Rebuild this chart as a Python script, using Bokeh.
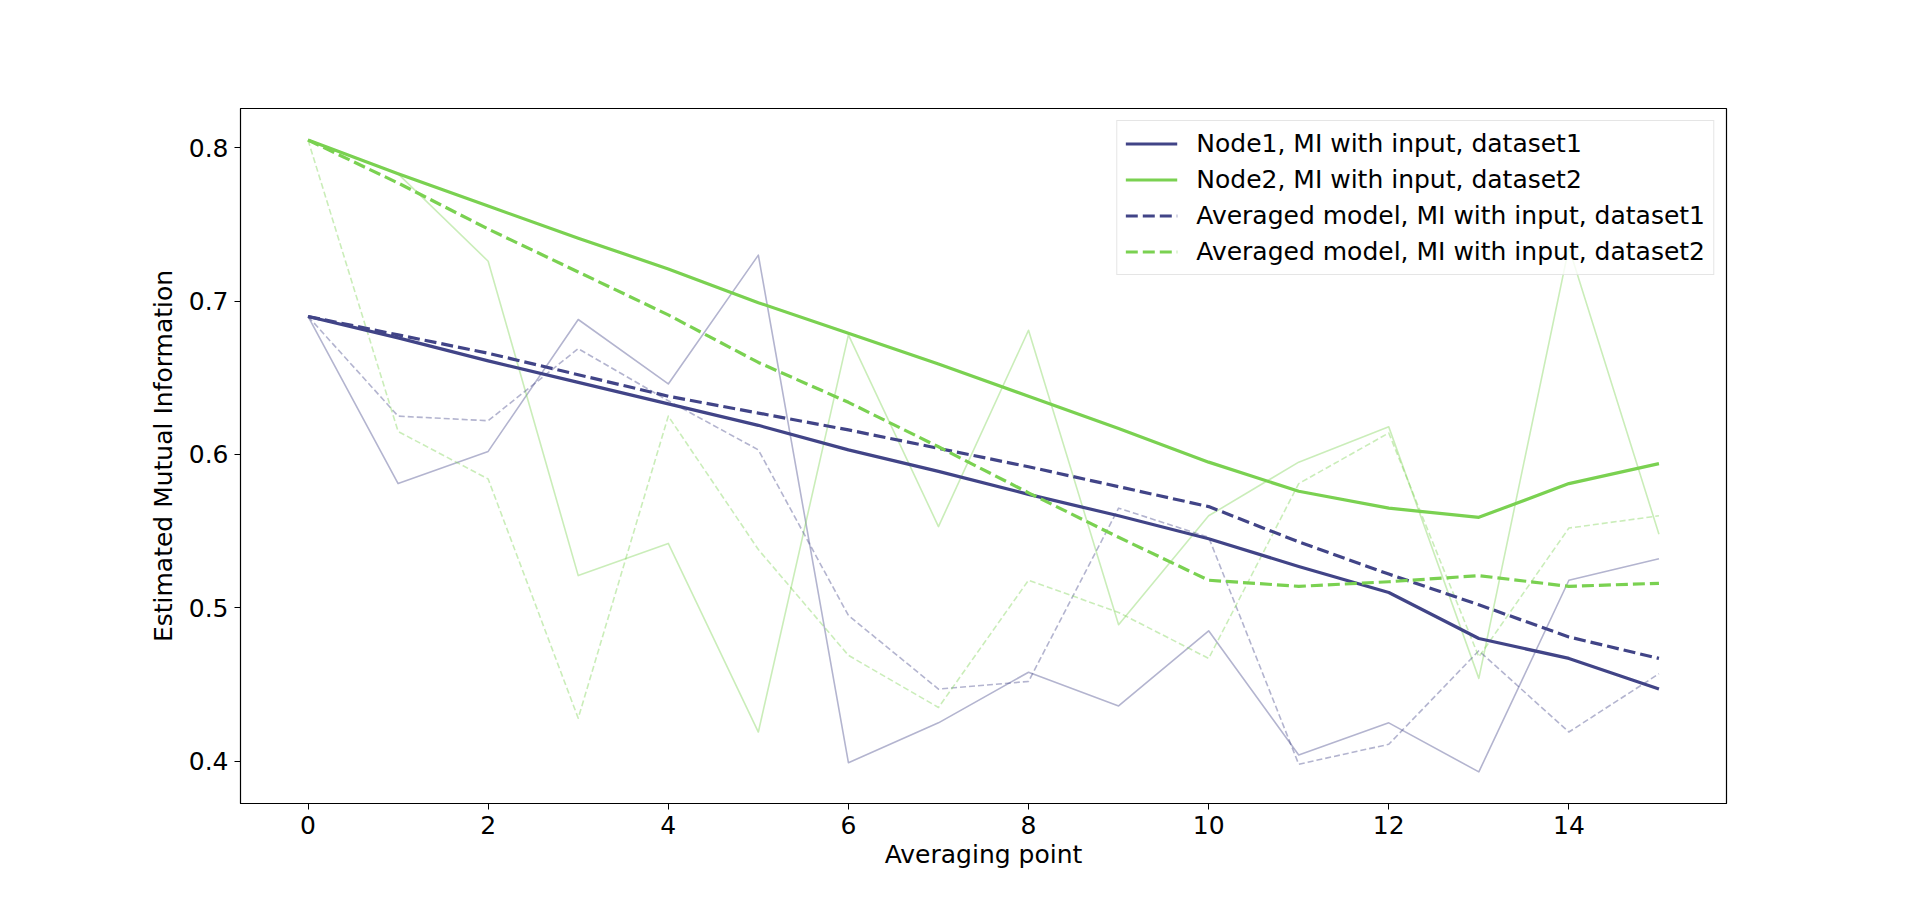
from bokeh.plotting import figure
from bokeh.models import Range1d, FixedTicker, Legend, LegendItem
from bokeh.embed import file_html
from bokeh.resources import INLINE

# ---- data ----
averaging_point = list(range(16))
node1_ds1 = [0.690, 0.676, 0.661, 0.647, 0.633, 0.619, 0.603, 0.589, 0.574, 0.560, 0.545, 0.527, 0.510, 0.480, 0.467, 0.447]
node2_ds2 = [0.805, 0.783, 0.762, 0.741, 0.721, 0.699, 0.679, 0.659, 0.638, 0.617, 0.595, 0.576, 0.565, 0.559, 0.581, 0.594]
avg_ds1 = [0.690, 0.678, 0.666, 0.652, 0.638, 0.627, 0.616, 0.604, 0.592, 0.579, 0.566, 0.543, 0.522, 0.502, 0.481, 0.467]
avg_ds2 = [0.805, 0.777, 0.747, 0.719, 0.691, 0.660, 0.634, 0.605, 0.575, 0.546, 0.518, 0.514, 0.517, 0.521, 0.514, 0.516]
node1_ds1_raw = [0.690, 0.581, 0.602, 0.688, 0.646, 0.730, 0.399, 0.425, 0.458, 0.436, 0.485, 0.404, 0.425, 0.393, 0.518, 0.532]
node2_ds2_raw = [0.805, 0.783, 0.726, 0.521, 0.542, 0.419, 0.678, 0.553, 0.681, 0.489, 0.560, 0.595, 0.618, 0.454, 0.735, 0.548]
avg_ds1_raw = [0.690, 0.625, 0.622, 0.669, 0.635, 0.603, 0.495, 0.447, 0.452, 0.565, 0.546, 0.398, 0.411, 0.472, 0.419, 0.457]
avg_ds2_raw = [0.805, 0.615, 0.584, 0.428, 0.625, 0.538, 0.469, 0.435, 0.518, 0.497, 0.467, 0.581, 0.614, 0.468, 0.552, 0.560]

x_ticks = [0, 2, 4, 6, 8, 10, 12, 14]
y_ticks = [0.4, 0.5, 0.6, 0.7, 0.8]

labels = [
    "Node1, MI with input, dataset1",
    "Node2, MI with input, dataset2",
    "Averaged model, MI with input, dataset1",
    "Averaged model, MI with input, dataset2",
]

BLUE = "#414487"
GREEN = "#7ad151"
FONT = "DejaVu Sans"
FS = "25px"

all_vals = (node1_ds1 + node2_ds2 + avg_ds1 + avg_ds2 + node1_ds1_raw
            + node2_ds2_raw + avg_ds1_raw + avg_ds2_raw)
ymin, ymax = min(all_vals), max(all_vals)
ypad = 0.05 * (ymax - ymin)
xmin, xmax = min(averaging_point), max(averaging_point)
xpad = 0.05 * (xmax - xmin)

p = figure(width=1904, height=886, output_backend="svg", toolbar_location=None,
           x_range=Range1d(xmin - xpad, xmax + xpad),
           y_range=Range1d(ymin - ypad, ymax + ypad),
           min_border_left=240, min_border_right=178,
           min_border_top=108, min_border_bottom=83)

p.background_fill_color = "white"
p.border_fill_color = "white"
p.outline_line_color = "black"
p.outline_line_width = 1.2
p.outline_line_alpha = 1.0
p.xgrid.visible = False
p.ygrid.visible = False

# thin lines
p.line(averaging_point, node1_ds1_raw, line_color=BLUE, line_alpha=0.4, line_width=1.6, line_join="round")
p.line(averaging_point, node2_ds2_raw, line_color=GREEN, line_alpha=0.4, line_width=1.6, line_join="round")
p.line(averaging_point, avg_ds1_raw, line_color=BLUE, line_alpha=0.4, line_width=1.6, line_dash="6 3", line_join="round")
p.line(averaging_point, avg_ds2_raw, line_color=GREEN, line_alpha=0.4, line_width=1.6, line_dash="6 3", line_join="round")

# thick lines
r1 = p.line(averaging_point, node1_ds1, line_color=BLUE, line_width=3.2, line_join="round")
r2 = p.line(averaging_point, node2_ds2, line_color=GREEN, line_width=3.2, line_join="round")
r3 = p.line(averaging_point, avg_ds1, line_color=BLUE, line_width=3.2, line_dash="12 5", line_join="round")
r4 = p.line(averaging_point, avg_ds2, line_color=GREEN, line_width=3.2, line_dash="12 5", line_join="round")

legend = Legend(items=[LegendItem(label=l, renderers=[r]) for l, r in zip(labels, [r1, r2, r3, r4])],
                location="top_right")
legend.label_text_font = FONT
legend.label_text_font_size = FS
legend.label_text_color = "black"
legend.glyph_width = 52
legend.glyph_height = 29
legend.label_height = 29
legend.label_standoff = 19
legend.spacing = 7
legend.padding = 8
legend.margin = 12
legend.border_line_color = "#cccccc"
legend.border_line_width = 1.2
legend.background_fill_color = "white"
legend.background_fill_alpha = 0.8
p.add_layout(legend)

for ax in (p.xaxis[0], p.yaxis[0]):
    ax.axis_line_color = "black"
    ax.major_tick_line_color = "black"
    ax.major_tick_out = 6
    ax.major_tick_in = 0
    ax.minor_tick_line_color = None
    ax.major_label_text_font = FONT
    ax.major_label_text_font_size = FS
    ax.major_label_text_color = "black"
    ax.major_label_standoff = 6
    ax.axis_label_text_font = FONT
    ax.axis_label_text_font_size = FS
    ax.axis_label_text_font_style = "normal"
    ax.axis_label_text_color = "black"

p.xaxis.ticker = FixedTicker(ticks=x_ticks)
p.yaxis.ticker = FixedTicker(ticks=y_ticks)
p.xaxis.axis_label = "Averaging point"
p.yaxis.axis_label = "Estimated Mutual Information"
p.xaxis.axis_label_standoff = 3
p.yaxis.axis_label_standoff = 8

open("out.html", "w").write(file_html(p, INLINE))
